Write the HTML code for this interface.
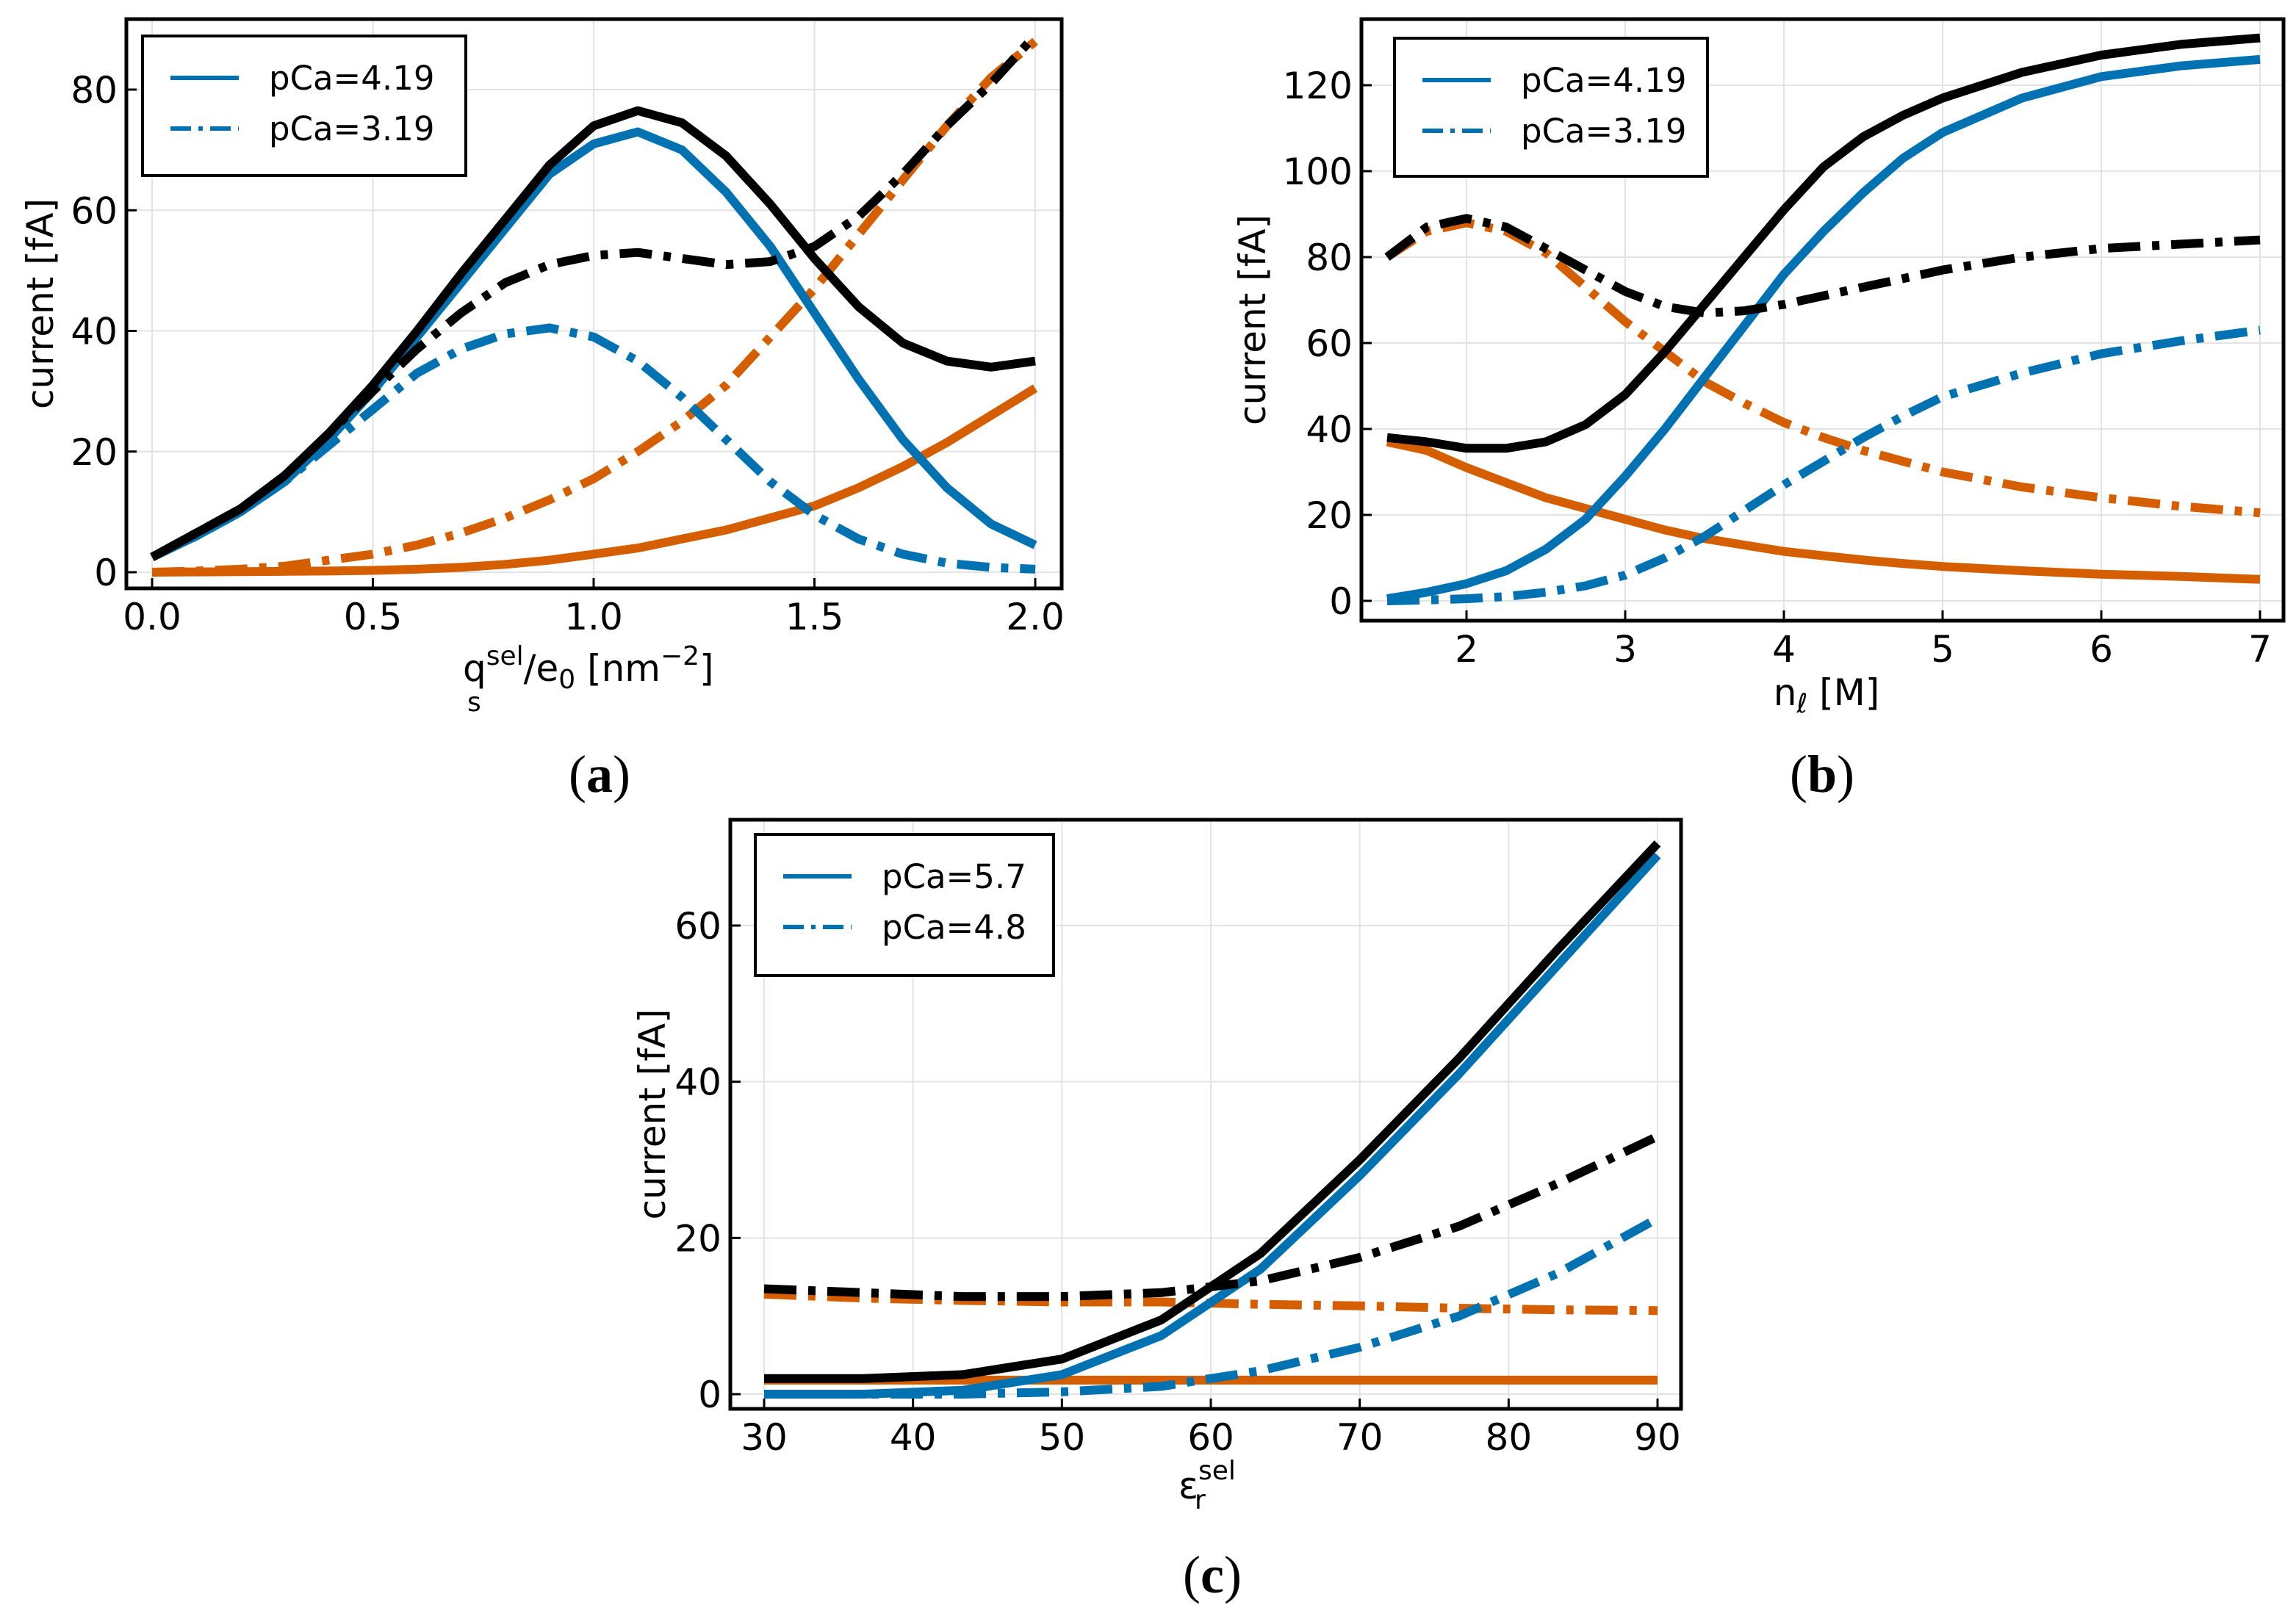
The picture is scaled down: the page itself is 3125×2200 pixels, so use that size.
<!DOCTYPE html>
<html><head><meta charset="utf-8">
<style>
html,body{margin:0;padding:0;background:#fff;}
svg{display:block;}
text{font-family:"DejaVu Sans","Liberation Sans",sans-serif;fill:#000;}
.pl{font-family:"Liberation Serif","DejaVu Serif",serif;}
</style></head>
<body>
<svg id="fig" width="3125" height="2200" viewBox="0 0 3125 2200" xmlns="http://www.w3.org/2000/svg"></svg>
<script>
// ---------- Panel (a) data ----------
const aX = [0,0.1,0.2,0.3,0.4,0.5,0.6,0.7,0.8,0.9,1.0,1.1,1.2,1.3,1.4,1.5,1.6,1.7,1.8,1.9,2.0];
const aBlueSolid = [2.5,6,10,15,22,30,39,48,57,66,71,73,70,63,54,43,32,22,14,8,4.5];
const aBlackSolid = [2.5,6.5,10.5,16,23,31,40,49.5,58.5,67.5,74,76.5,74.5,69,61,52,44,38,35,34,35];
const aOrangeSolid = [0,0.05,0.1,0.15,0.2,0.3,0.5,0.8,1.3,2,3,4,5.5,7,9,11,14,17.5,21.5,26,30.5];
const aBlueDash = [2.5,6,10,15,21,27,33,37,39.5,40.5,39,35,29,22,15,9.5,5.5,3,1.5,0.8,0.5];
const aBlackDash = [2.5,6.5,10.5,16,23,30,37,43,48,51,52.5,53,52,51,51.5,54,59,66,74,81,89];
const aOrangeDash = [0,0.2,0.5,1,2,3,4.5,6.5,9,12,15.5,20,25,31,39,47,56,65,74,82,88];
const aXTicks = [0,0.5,1.0,1.5,2.0];
const aXTickLabels = ["0.0","0.5","1.0","1.5","2.0"];
const aYTicks = [0,20,40,60,80];
// ---------- Panel (b) data ----------
const bX = [1.5,1.75,2,2.25,2.5,2.75,3,3.25,3.5,3.75,4,4.25,4.5,4.75,5,5.5,6,6.5,7];
const bBlueSolid = [0.5,2,4,7,12,19,29,40,52,64,76,86,95,103,109,117,122,124.5,126];
const bBlackSolid = [38,37,35.5,35.5,37,41,48,58,69,80,91,101,108,113,117,123,127,129.5,131];
const bOrangeSolid = [37,35,31,27.5,24,21.5,19,16.5,14.5,13,11.5,10.5,9.5,8.7,8,7,6.2,5.7,5];
const bBlueDash = [0,0.2,0.5,1,2,3.5,6,10,15,21,27,32.5,38,43,47.5,53,57.5,60.5,63];
const bBlackDash = [80,87,89,87,82,77,72,68.5,67,67.5,69,71,73,75,77,80,82,83,84];
const bOrangeDash = [80,86,88,86,81,73,65,58,51,46,41.5,38,35,32.5,30,26.5,24,22,20.5];
const bXTicks = [2,3,4,5,6,7];
const bXTickLabels = ["2","3","4","5","6","7"];
const bYTicks = [0,20,40,60,80,100,120];
// ---------- Panel (c) data ----------
const cX = [30,36.67,43.33,50,56.67,63.33,70,76.67,83.33,90];
const cBlueSolid = [0,0,0.5,2.5,7.5,16,28,41,55,69];
const cBlackSolid = [2,2,2.5,4.5,9.5,18,30,43,57,70.5];
const cOrangeSolid = [1.8,1.8,1.8,1.8,1.8,1.8,1.8,1.8,1.8,1.8];
const cBlueDash = [0,0,0,0.3,1,3,6,10,15.5,22.5];
const cBlackDash = [13.5,13,12.5,12.5,13,14.5,17.5,21.5,27,33];
const cOrangeDash = [12.8,12.3,12,11.8,11.8,11.5,11.3,11,10.8,10.7];
const cXTicks = [30,40,50,60,70,80,90];
const cXTickLabels = ["30","40","50","60","70","80","90"];
const cYTicks = [0,20,40,60];

const NS = "http://www.w3.org/2000/svg";
const svg = document.getElementById('fig');
const BLUE="#0072b2", ORANGE="#d55e00", BLACK="#000";
const DASH="44 16 10 16";
function mk(tag, attrs, parent){
  const e=document.createElementNS(NS,tag);
  for(const k in attrs) e.setAttribute(k,attrs[k]);
  (parent||svg).appendChild(e); return e;
}
function panel(cfg){
  const g=mk('g',{});
  
  
  const sx=v=>cfg.x0px+(v-cfg.x0v)*(cfg.x1px-cfg.x0px)/(cfg.x1v-cfg.x0v);
  const sy=v=>cfg.y0px+(v-cfg.y0v)*(cfg.y1px-cfg.y0px)/(cfg.y1v-cfg.y0v);
  const F=cfg.frame;
  cfg.xt.forEach((t,i)=>{
    const gl=mk('line',{x1:sx(t),x2:sx(t),y1:F.t,y2:F.b,stroke:"#e3e3e3","stroke-width":2},g);
    
    
    const tk=mk('line',{x1:sx(t),x2:sx(t),y1:F.b,y2:F.b-14,stroke:"#000","stroke-width":3},g);
    
    
    const tl=mk('text',{x:sx(t),y:F.b+56,"font-size":50,"text-anchor":"middle"},g);
    tl.textContent=cfg.xtl[i];
    
    
  });
  cfg.yt.forEach(t=>{
    const gl=mk('line',{x1:F.l,x2:F.r,y1:sy(t),y2:sy(t),stroke:"#e3e3e3","stroke-width":2},g);
    
    
    const tk=mk('line',{x1:F.l,x2:F.l+14,y1:sy(t),y2:sy(t),stroke:"#000","stroke-width":3},g);
    
    
    const tl=mk('text',{x:F.l-12,y:sy(t)+18,"font-size":50,"text-anchor":"end"},g);
    tl.textContent=String(t);
    
    
  });
  cfg.series.forEach(s=>{
    const d=cfg.xs.map((x,i)=>(i?'L':'M')+sx(x).toFixed(1)+' '+sy(s.v[i]).toFixed(1)).join(' ');
    const p=mk('path',{d:d,fill:"none",stroke:s.c,"stroke-width":12,"stroke-linejoin":"round"},g);
    if(s.dash) p.setAttribute('stroke-dasharray',DASH);
    
    
  });
  const fr=mk('rect',{x:F.l,y:F.t,width:F.r-F.l,height:F.b-F.t,fill:"none",stroke:"#000","stroke-width":5},g);
  
  
  const L=cfg.leg;
  const lg=mk('g',{},g);
  
  
  mk('rect',{x:L.l,y:L.t,width:L.w,height:L.h,fill:"#fff",stroke:"#000","stroke-width":4},lg);
  const y1=L.t+57,y2=L.t+126;
  const e1=mk('line',{x1:L.l+38,x2:L.l+131,y1:y1,y2:y1,stroke:BLUE,"stroke-width":6},lg);
  
  
  const e2=mk('line',{x1:L.l+38,x2:L.l+131,y1:y2,y2:y2,stroke:BLUE,"stroke-width":6,"stroke-dasharray":"28 10 6 10"},lg);
  
  
  const t1=mk('text',{x:L.l+172,y:y1+16,"font-size":45},lg); t1.textContent=L.t1;
  
  
  const t2=mk('text',{x:L.l+172,y:y2+16,"font-size":45},lg); t2.textContent=L.t2;
  
  
  const yl=mk('text',{x:0,y:0,"font-size":50,"text-anchor":"middle",transform:`translate(${cfg.ylx},${(F.t+F.b)/2}) rotate(-90)`},g);
  yl.textContent="current [fA]";
  
  
  return g;
}
function series(b,k,o,bd,kd,od){
  return [
    {n:'orange-solid',c:ORANGE,v:o},{n:'orange-dashdot',c:ORANGE,v:od,dash:1},
    {n:'blue-solid',c:BLUE,v:b},{n:'blue-dashdot',c:BLUE,v:bd,dash:1},
    {n:'black-solid',c:BLACK,v:k},{n:'black-dashdot',c:BLACK,v:kd,dash:1}];
}
panel({name:'panel-a',frame:{l:172,t:26,r:1445,b:801},
  x0v:0,x1v:2,x0px:207,x1px:1409,y0v:0,y1v:80,y0px:779,y1px:122,
  xs:aX,xt:aXTicks,xtl:aXTickLabels,yt:aYTicks,ylx:72,
  series:series(aBlueSolid,aBlackSolid,aOrangeSolid,aBlueDash,aBlackDash,aOrangeDash),
  leg:{l:194,t:49,w:440,h:190,t1:"pCa=4.19",t2:"pCa=3.19"}});
panel({name:'panel-b',frame:{l:1853,t:26,r:3108,b:845},
  x0v:2,x1v:7,x0px:1996,x1px:3076,y0v:0,y1v:120,y0px:818,y1px:116,
  xs:bX,xt:bXTicks,xtl:bXTickLabels,yt:bYTicks,ylx:1722,
  series:series(bBlueSolid,bBlackSolid,bOrangeSolid,bBlueDash,bBlackDash,bOrangeDash),
  leg:{l:1898,t:52,w:426,h:188,t1:"pCa=4.19",t2:"pCa=3.19"}});
panel({name:'panel-c',frame:{l:994,t:1116,r:2288,b:1918},
  x0v:30,x1v:90,x0px:1040,x1px:2256,y0v:0,y1v:60,y0px:1898,y1px:1260,
  xs:cX,xt:cXTicks,xtl:cXTickLabels,yt:cYTicks,ylx:905,
  series:series(cBlueSolid,cBlackSolid,cOrangeSolid,cBlueDash,cBlackDash,cOrangeDash),
  leg:{l:1028,t:1136,w:406,h:192,t1:"pCa=5.7",t2:"pCa=4.8"}});
</script>
<svg style="position:absolute;left:0;top:0" width="3125" height="2200">
  <text x="630" y="927" font-size="50">q<tspan font-size="36" dy="-22">sel</tspan><tspan dy="22">/e</tspan><tspan font-size="36" dy="10">0</tspan><tspan dy="-10"> [nm</tspan><tspan font-size="36" dy="-22">−2</tspan><tspan dy="22">]</tspan></text>
  <text x="636" y="968" font-size="36">s</text>
  <text x="2486" y="960" font-size="50" text-anchor="middle">n<tspan font-size="36" dy="10" font-style="italic">ℓ</tspan><tspan dy="-10"> [M]</tspan></text>
  <text x="1604" y="2040" font-size="50">ε<tspan font-size="36" dy="-26">sel</tspan><tspan font-size="36" dx="-56" dy="40">r</tspan></text>
  <text class="pl" x="816" y="1078" font-size="72" text-anchor="middle">(<tspan font-weight="bold">a</tspan>)</text>
  <text class="pl" x="2480" y="1078" font-size="72" text-anchor="middle">(<tspan font-weight="bold">b</tspan>)</text>
  <text class="pl" x="1650" y="2168" font-size="72" text-anchor="middle">(<tspan font-weight="bold">c</tspan>)</text>
</svg>
</body></html>
